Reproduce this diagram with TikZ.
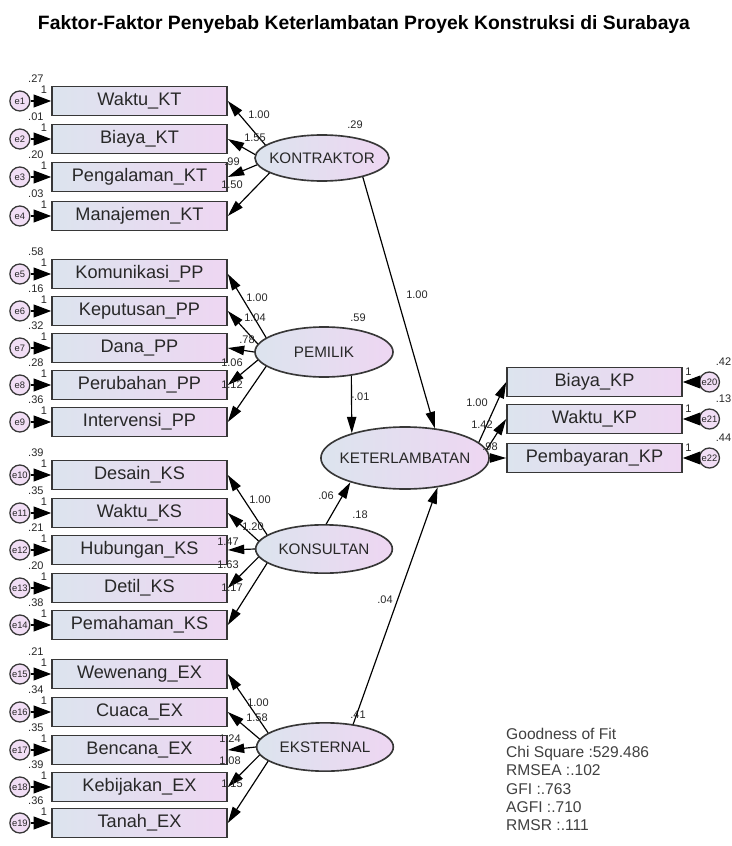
\documentclass[tikz,border=0pt]{standalone}
\usepackage{fontspec}
\setmainfont{Liberation Sans}
\usetikzlibrary{arrows.meta,shapes.geometric,positioning}
\definecolor{lblue}{RGB}{220,228,238}
\definecolor{lpink}{RGB}{238,214,242}
\definecolor{edgegray}{RGB}{55,55,55}
\definecolor{txtgray}{RGB}{40,40,40}
\tikzset{
  obs/.style={draw=edgegray, line width=1.4pt, left color=lblue, right color=lpink,
    minimum width=5.25cm, minimum height=0.87cm, inner sep=0pt,
    font=\fontsize{15.5}{17}\selectfont, text=txtgray},
  lat/.style={ellipse, draw=edgegray, line width=1.4pt, left color=lblue, right color=lpink,
    minimum width=4.1cm, minimum height=1.45cm, inner xsep=-5pt, inner ysep=0pt,
    font=\fontsize{13}{15}\selectfont, text=txtgray},
  err/.style={circle, draw=edgegray, line width=1.1pt, fill=lpink!80,
    minimum size=0.6cm, inner sep=0pt, font=\fontsize{8}{9}\selectfont, text=txtgray},
  num/.style={font=\fontsize{9.4}{10}\selectfont, text=txtgray, inner sep=0pt},
  load/.style={-{Triangle[length=14pt,width=8pt]}, line width=1pt},
  errarr/.style={-{Triangle[length=15pt,width=11pt]}, line width=1pt}
}
\begin{document}
\begin{tikzpicture}[x=0.03cm,y=-0.03cm]
\path[use as bounding box, fill=white] (0,0) rectangle (731,846);
\node[font=\bfseries\fontsize{16.5}{18}\selectfont] (title) at (364,25)
  {Faktor-Faktor Penyebab Keterlambatan Proyek Konstruksi di Surabaya};

% indicators
\node[obs] (x1) at (139.5,101) {Waktu\_KT};
\node[obs] (x2) at (139.5,139) {Biaya\_KT};
\node[obs] (x3) at (139.5,177) {Pengalaman\_KT};
\node[obs] (x4) at (139.5,216) {Manajemen\_KT};
\node[obs] (x5) at (139.5,274) {Komunikasi\_PP};
\node[obs] (x6) at (139.5,311) {Keputusan\_PP};
\node[obs] (x7) at (139.5,348) {Dana\_PP};
\node[obs] (x8) at (139.5,385) {Perubahan\_PP};
\node[obs] (x9) at (139.5,422) {Intervensi\_PP};
\node[obs] (x10) at (139.5,475) {Desain\_KS};
\node[obs] (x11) at (139.5,513) {Waktu\_KS};
\node[obs] (x12) at (139.5,550) {Hubungan\_KS};
\node[obs] (x13) at (139.5,588) {Detil\_KS};
\node[obs] (x14) at (139.5,625) {Pemahaman\_KS};
\node[obs] (x15) at (139.5,674) {Wewenang\_EX};
\node[obs] (x16) at (139.5,712) {Cuaca\_EX};
\node[obs] (x17) at (139.5,750) {Bencana\_EX};
\node[obs] (x18) at (139.5,787) {Kebijakan\_EX};
\node[obs] (x19) at (139.5,823) {Tanah\_EX};
\node[obs] (x20) at (594.5,382) {Biaya\_KP};
\node[obs] (x21) at (594.5,419) {Waktu\_KP};
\node[obs] (x22) at (594.5,458) {Pembayaran\_KP};

% latent variables
\node[lat, minimum width=4.02cm, minimum height=1.38cm] (kt) at (322,158) {KONTRAKTOR};
\node[lat, minimum width=4.14cm, minimum height=1.5cm] (pp) at (324,352) {PEMILIK};
\node[lat] (ks) at (324,549) {KONSULTAN};
\node[lat] (ex) at (325,747) {EKSTERNAL};
\node[lat, minimum width=4.8cm, minimum height=1.86cm] (kl) at (405,458) {KETERLAMBATAN};
\node[num] at (355,125) {.29};
\node[num] at (358,318) {.59};
\node[num] at (360,515) {.18};
\node[num] at (358,715) {.41};

% error terms
\foreach \i/\v in {1/.27,2/.01,3/.20,4/.03,5/.58,6/.16,7/.32,8/.28,9/.36,10/.39,
    11/.35,12/.21,13/.20,14/.38,15/.21,16/.34,17/.35,18/.39,19/.36}{
  \node[err, left=0.62cm of x\i] (e\i) {e\i};
  \draw[errarr] (e\i) -- (x\i);
  \node[num] at ([shift={(16,-22)}]e\i.center) {\v};
  \node[num] at ([shift={(24,-11)}]e\i.center) {1};
}
\foreach \i/\v in {20/.42,21/.13,22/.44}{
  \node[err, right=0.48cm of x\i] (e\i) {e\i};
  \draw[errarr] (e\i) -- (x\i);
  \node[num] at ([shift={(14,-20)}]e\i.center) {\v};
  \node[num] at ([shift={(-21,-10)}]e\i.center) {1};
}

% loadings
\foreach \a/\j in {167/1,177/2,186/3,196/4}
  \draw[load] (kt.\a) -- (x\j.east);
\foreach \a/\j in {166/5,173/6,180/7,187/8,194/9}
  \draw[load] (pp.\a) -- (x\j.east);
\foreach \a/\j in {166/10,173/11,180/12,187/13,194/14}
  \draw[load] (ks.\a) -- (x\j.east);
\foreach \a/\j in {166/15,173/16,180/17,187/18,194/19}
  \draw[load] (ex.\a) -- (x\j.east);
\foreach \a/\j in {12/20,6/21,0/22}
  \draw[load] (kl.\a) -- (x\j.west);
\foreach \x/\y/\t in {259/115/1.00,255/138/1.55,232/162/.99,232/185/1.50,
    257/298/1.00,255/318/1.04,247/340/.78,232/363/1.06,232/385/1.12,
    260/500/1.00,253/527/1.20,228/542/1.47,228/565/1.63,232/588/1.17,
    258/703/1.00,257/718/1.58,230/739/1.24,230/761/1.08,232/784/1.15,
    477/403/1.00,482/425/1.42,490/447/.98}
  \node[num] at (\x,\y) {\t};

% structural paths
\draw[load] (kt.-25) -- (kl.45);
\draw[load] (pp.-41) -- (kl.155);
\draw[load] (ks.85) -- (kl.204);
\draw[load] (ex.39) -- (kl.-42);
\node[num] at (417,295) {1.00};
\node[num] at (360,397) {-.01};
\node[num] at (326,496) {.06};
\node[num] at (385,600) {.04};

% fit indices
\node[anchor=north west, align=left, inner sep=0pt, text=black!75,
  font=\fontsize{13.3}{15.5}\selectfont] (gof) at (506,728)
  {Goodness of Fit\\Chi Square :529.486\\RMSEA :.102\\GFI :.763\\AGFI :.710\\RMSR :.111};
\end{tikzpicture}
\end{document}
